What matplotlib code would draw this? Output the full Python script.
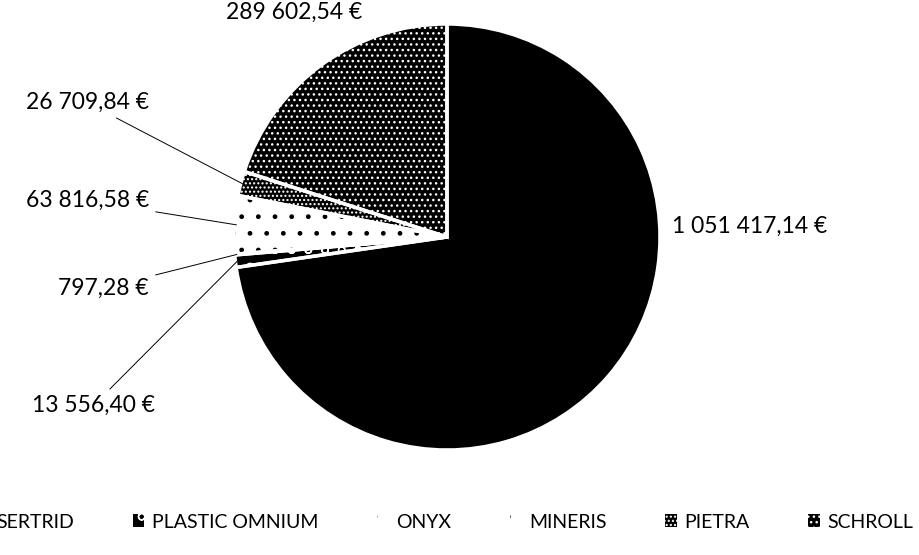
import matplotlib
matplotlib.use("Agg")
import matplotlib.pyplot as plt
import numpy as np

plt.rcParams['font.family'] = ['Lato', 'DejaVu Sans']
plt.rcParams['hatch.linewidth'] = 1.0

categories = ["SERTRID", "PLASTIC OMNIUM", "ONYX", "MINERIS", "PIETRA", "SCHROLL"]
values = [1051417.14, 13556.40, 797.28, 63816.58, 26709.84, 289602.54]
value_labels = ["1 051 417,14 €", "13 556,40 €", "797,28 €", "63 816,58 €", "26 709,84 €", "289 602,54 €"]

face_colors = ["black", "black", "white", "white", "black", "black"]
hatch_colors = ["black", "white", "black", "black", "white", "white"]
hatches = [None, "o", ".", ".", "....", "..."]

# label text anchor positions (data units, pie radius = 1) and alignment
label_pos = [(1.056, 0.05), (-1.37, -0.79), (-1.40, -0.24), (-1.40, 0.17), (-1.40, 0.63), (-0.72, 1.055)]
label_ha = ["left", "right", "right", "right", "right", "center"]
leader = [False, True, True, True, True, False]

W, H = 920, 555
fig = plt.figure(figsize=(W / 100, H / 100), dpi=100)
cx, cy, r = 447, 237, 213
ax = fig.add_axes([(cx - r) / W, (H - cy - r) / H, 2 * r / W, 2 * r / H])

wedges, _ = ax.pie(values, startangle=90, counterclock=False, radius=1,
                   wedgeprops=dict(linewidth=0))
for w, fc, hc, h in zip(wedges, face_colors, hatch_colors, hatches):
    w.set_facecolor(fc)
    w.set_edgecolor(hc)
    if h:
        w.set_hatch(h)

# white separators
ax.pie(values, startangle=90, counterclock=False, radius=1,
       wedgeprops=dict(facecolor='none', edgecolor='white', linewidth=2.5))

ax.set_xlim(-1, 1)
ax.set_ylim(-1, 1)
ax.set_aspect('equal')
ax.axis('off')

total = sum(values)
cum = 0
for i, v in enumerate(values):
    mid = 90 - (cum + v / 2) / total * 360
    cum += v
    tx, ty = label_pos[i]
    px, py = np.cos(np.radians(mid)), np.sin(np.radians(mid))
    if leader[i]:
        ax.annotate(value_labels[i], xy=(px * 0.99, py * 0.99), xytext=(tx, ty),
                    ha=label_ha[i], va='center', fontsize=16.5,
                    arrowprops=dict(arrowstyle='-', color='black', lw=0.7,
                                    shrinkA=3, shrinkB=0))
    else:
        ax.text(tx, ty, value_labels[i], ha=label_ha[i], va='center', fontsize=16.5)

leg = fig.legend(wedges, categories, loc='center', bbox_to_anchor=(0.484, (H - 522) / H),
                 ncol=6, frameon=False, fontsize=14, handlelength=0.6, handleheight=0.6,
                 handletextpad=0.4, columnspacing=3.0)

fig.savefig("out.png", dpi=100)
